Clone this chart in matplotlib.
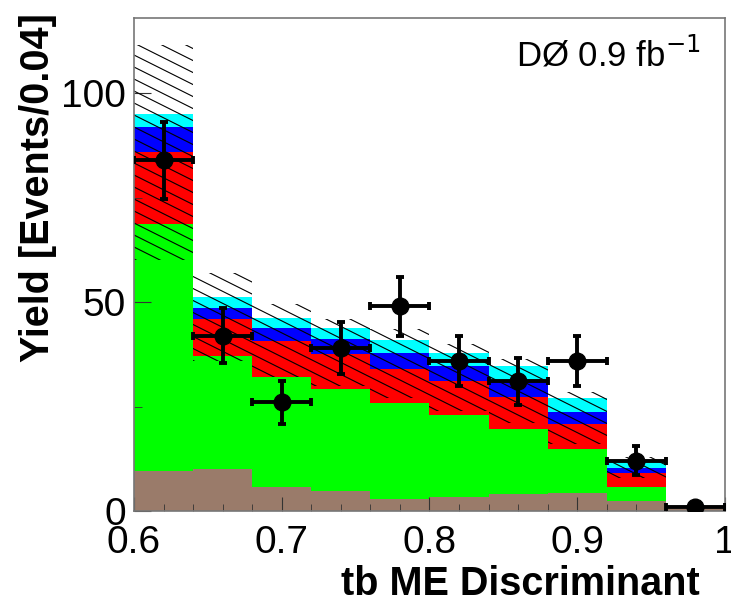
import numpy as np
import matplotlib.pyplot as plt
from matplotlib.ticker import MultipleLocator

plt.rcParams['font.family'] = ['Liberation Sans', 'DejaVu Sans']

# bin edges of the discriminant (width 0.04)
edges = [0.60, 0.64, 0.68, 0.72, 0.76, 0.80, 0.84, 0.88, 0.92, 0.96, 1.00]
centers = [0.62, 0.66, 0.70, 0.74, 0.78, 0.82, 0.86, 0.90, 0.94, 0.98]

# stacked backgrounds / signal, bottom to top
brown = [9.5, 10.0, 5.7, 4.9, 2.9, 3.4, 4.0, 4.2, 2.4, 0.4]
green = [59.2, 27.1, 26.4, 24.4, 22.9, 19.6, 15.7, 10.6, 3.4, 0.0]
red = [17.3, 8.8, 8.6, 8.3, 8.3, 8.2, 7.5, 6.1, 3.2, 0.0]
blue = [6.0, 2.7, 3.1, 3.6, 3.6, 3.4, 4.2, 2.7, 1.2, 0.0]
cyan = [3.0, 2.6, 2.5, 2.5, 3.3, 3.3, 3.2, 3.4, 1.8, 0.0]

# uncertainty band on the total prediction
band_up = [111.5, 57.0, 49.5, 46.0, 43.5, 40.0, 36.5, 28.5, 13.0, 0.0]
band_lo = [60.0, 36.0, 32.0, 30.0, 27.0, 24.0, 21.0, 16.0, 8.0, 0.0]

# data
data = [84, 42, 26, 39, 49, 36, 31, 36, 12, 1]
data_err = [9.2, 6.5, 5.1, 6.2, 7.0, 6.0, 5.6, 6.0, 3.5, 1.0]

layers = [(brown, '#9a7b6a'), (green, '#00ff00'), (red, '#ff0000'),
          (blue, '#0000ff'), (cyan, '#00ffff')]

fig = plt.figure(figsize=(7.31, 6.03), dpi=100)
ax = fig.add_axes([0.1833, 0.1526, 0.8085, 0.8175])

bottom = np.zeros(len(brown))
for vals, col in layers:
    ax.bar(edges[:-1], vals, width=0.04, bottom=bottom, align='edge',
           color=col, edgecolor='none', linewidth=0, zorder=1)
    bottom += np.array(vals)

# hatched band drawn as slanted lines clipped to the band shape
band = ax.stairs(band_up, edges, baseline=band_lo, fill=True,
                 facecolor='none', edgecolor='none', zorder=2)
k = 0.5 * 591 / 493
for c in np.arange(0.0, 1.0 + k + 0.03, 12 / 493):
    ln, = ax.plot([0, 1], [c, c - k], transform=ax.transAxes,
                  color='black', lw=0.8, zorder=2)
    ln.set_clip_path(band)

ax.errorbar(centers, data, yerr=data_err, xerr=0.02, fmt='o', color='black',
            ms=12, elinewidth=2.8, capsize=3, capthick=2.8, zorder=3)

ax.set_xlim(0.6, 1.0)
ax.set_ylim(0, 118)
ax.xaxis.set_major_locator(MultipleLocator(0.1))
ax.xaxis.set_minor_locator(MultipleLocator(0.02))
ax.yaxis.set_major_locator(MultipleLocator(50))
ax.yaxis.set_minor_locator(MultipleLocator(25))
ax.set_xticks([0.6, 0.7, 0.8, 0.9, 1.0])
ax.set_xticklabels(['0.6', '0.7', '0.8', '0.9', '1'])
ax.tick_params(axis='both', which='both', direction='in', top=False, right=False,
               labelsize=28, color='#333333')
ax.tick_params(axis='x', which='major', length=10, pad=10)
ax.tick_params(axis='x', which='minor', length=5)
ax.tick_params(axis='y', which='major', length=12, pad=6)
ax.tick_params(axis='y', which='minor', length=6)
for s in ax.spines.values():
    s.set_color('#777777')
    s.set_linewidth(1.2)

ax.set_xlabel('tb ME Discriminant', fontsize=28.5, fontweight='bold')
ax.xaxis.set_label_coords(0.958, -0.148)
ax.xaxis.label.set_ha('right')
ax.xaxis.label.set_va('center')
ax.set_ylabel('Yield [Events/0.04]', fontsize=28.5, fontweight='bold')
ax.yaxis.set_label_coords(-0.162, 1.01)
ax.yaxis.label.set_ha('right')
ax.yaxis.label.set_va('center')

ax.text(0.958, 0.925, 'DØ 0.9 fb$^{-1}$', transform=ax.transAxes,
        ha='right', va='center', fontsize=25)

plt.savefig('out.png', dpi=100)
